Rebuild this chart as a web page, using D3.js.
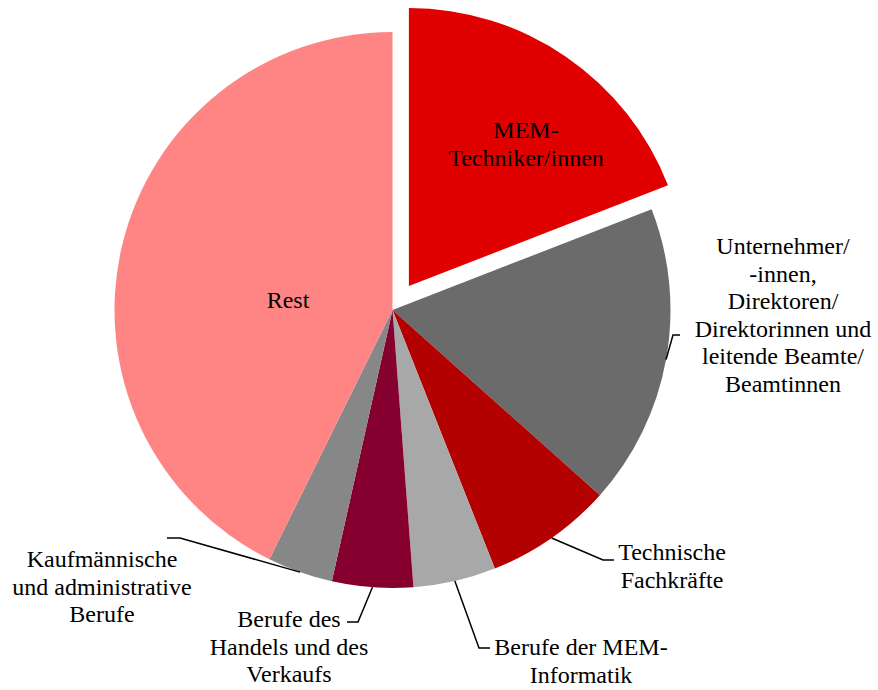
<!DOCTYPE html>
<html lang="de">
<head>
    <meta charset="UTF-8">
    <title>Berufe Kreisdiagramm</title>
    <script src="https://d3js.org/d3.v7.min.js"></script>
    <style>
        body { margin: 0; background: #fff; }
        text { font-family: "Liberation Serif", "Times New Roman", serif; font-size: 24px; fill: #000; }
    </style>
</head>
<body>
<svg width="878" height="690" id="canvas"></svg>

<script>
    // data
    const categories = [
        "MEM-Techniker/innen",
        "Unternehmer/innen, Direktoren/Direktorinnen und leitende Beamte/Beamtinnen",
        "Technische Fachkräfte",
        "Berufe der MEM-Informatik",
        "Berufe des Handels und des Verkaufs",
        "Kaufmännische und administrative Berufe",
        "Rest"
    ];
    const values = [19.1, 17.5, 7.4, 4.8, 4.7, 3.8, 42.7];
    const colors = ["#E00000", "#6B6B6B", "#B30000", "#A8A8A8", "#85002E", "#878787", "#FF8585"];
    const labelLines = [
        ["MEM-", "Techniker/innen"],
        ["Unternehmer/", "-innen,", "Direktoren/", "Direktorinnen und", "leitende Beamte/", "Beamtinnen"],
        ["Technische", "Fachkräfte"],
        ["Berufe der MEM-", "Informatik"],
        ["Berufe des", "Handels und des", "Verkaufs"],
        ["Kaufmännische", "und administrative", "Berufe"],
        ["Rest"]
    ];

    // layout (label spots, leader elbows)
    const cx = 392.5, cy = 310, radius = 278, explode = 29;
    const lineH = 27.5;
    const labels = [
        {x: 526, y: 138, leader: null},
        {x: 783, y: 254, leader: [[673, 335], [680, 335]]},
        {x: 672, y: 560, leader: [[603, 560], [614, 560]]},
        {x: 581, y: 655, leader: [[479, 648], [490, 648]]},
        {x: 289, y: 627, leader: [[358, 622], [347, 622]]},
        {x: 102, y: 567, leader: [[180, 538], [167, 538]]},
        {x: 288, y: 308, leader: null}
    ];

    let svg = d3.select("svg");
    let g = svg.append("g").attr("transform", `translate(${cx},${cy})`);

    const pie = d3.pie().sort(null).value(d => d);
    const arcs = pie(values);
    const arc = d3.arc().innerRadius(0).outerRadius(radius);

    g.selectAll("path.slice")
        .data(arcs)
        .enter()
        .append("path")
        .attr("class", "slice")
        .attr("d", arc)
        .attr("fill", (d, i) => colors[i])
        .attr("transform", (d, i) => {
            if (i !== 0) return null;
            const a = (d.startAngle + d.endAngle) / 2;
            return `translate(${explode * Math.sin(a)},${-explode * Math.cos(a)})`;
        });

    // leader lines start at slice edge mid angle
    arcs.forEach((d, i) => {
        const lab = labels[i];
        if (!lab.leader) return;
        const a = (d.startAngle + d.endAngle) / 2;
        const pts = [[cx + radius * Math.sin(a), cy - radius * Math.cos(a)]].concat(lab.leader);
        svg.append("path")
            .attr("d", d3.line()(pts))
            .attr("fill", "none")
            .attr("stroke", "#000")
            .attr("stroke-width", 1.5);
    });

    labels.forEach((lab, i) => {
        const t = svg.append("text")
            .attr("text-anchor", "middle")
            .attr("x", lab.x)
            .attr("y", lab.y);
        labelLines[i].forEach((line, j) => {
            t.append("tspan")
                .attr("x", lab.x)
                .attr("y", lab.y + j * lineH)
                .text(line);
        });
    });
</script>
</body>
</html>
